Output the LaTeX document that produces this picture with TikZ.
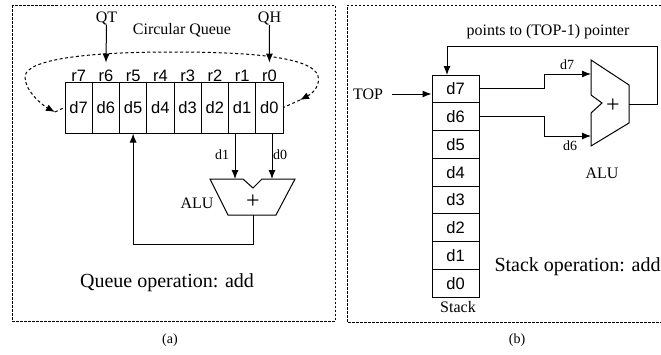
\documentclass[tikz,border=0pt]{standalone}
\usepackage{fontspec}
\setmainfont{Liberation Serif}
\newfontfamily\arialf{Liberation Sans}
\usetikzlibrary{arrows.meta}
\begin{document}
\begin{tikzpicture}[x=1pt,y=-1pt,
  line width=1pt,
  >={Latex[length=9pt,width=7pt]},
  panel/.style={draw,dash pattern=on 2.5pt off 1.5pt,line width=0.7pt},
  circ/.style={dash pattern=on 3pt off 2.5pt,line width=1pt},
  cell/.style={draw,minimum width=27.25pt,minimum height=51pt,inner sep=0pt,font=\arialf\fontsize{16.5}{16.5}\selectfont},
  scell/.style={draw,minimum width=47pt,minimum height=27.75pt,inner sep=0pt,font=\arialf\fontsize{16.5}{16.5}\selectfont},
  rlab/.style={font=\arialf\fontsize{16.5}{16.5}\selectfont,inner sep=0pt},
  lab/.style={font=\fontsize{16}{16}\selectfont,inner sep=0pt},
  small/.style={font=\fontsize{14}{14}\selectfont,inner sep=0pt},
  big/.style={font=\fontsize{20}{20}\selectfont,inner sep=0pt},
  plus/.style={font=\fontsize{24}{24}\selectfont,inner sep=0pt},
]
\useasboundingbox (0,0) rectangle (661,354);
% panels
\draw[panel] (12,5) rectangle (335,321);
\draw[panel] (665,5) -- (347,5) -- (347,322) -- (665,322);
\node[small] (capa) at (170,340) {(a)};
\node[small] (capb) at (517,340) {(b)};

% ---------- (a) circular queue ----------
\foreach \i/\d in {0/7,1/6,2/5,3/4,4/3,5/2,6/1,7/0}{
  \node[cell] (q\d) at ({65+27.25*(\i+0.5)},107.5) {d\d};
  \node[rlab] (rl\d) at ({65+27.25*(\i+0.5)},76) {r\d};
}
\node[lab] (cq) at (182,30) {Circular Queue};
\node[lab] (QT) at (106.5,18) {QT};
\node[lab] (QH) at (269.5,18) {QH};
\draw[->,shorten >=7pt] (QT.south) -- (rl6.north);
\draw[->,shorten >=7pt] (QH.south) -- (rl0.north);
% dashed circular arrow
\coordinate (cr) at (300,100);
\coordinate (cl) at (55,112);
\draw[circ,{Latex[length=9pt,width=7pt]}-{Latex[length=9pt,width=7pt]}]
  (cr) .. controls (315,92) and (320,84) .. (318,76)
       .. controls (312,56) and (245,52) .. (171,52)
       .. controls (95,52) and (28,58) .. (25,76)
       .. controls (24,90) and (42,105) .. (cl);
\draw[circ] (cr) -- (q0.east);
\draw[circ] (cl) -- (q7.west);
% ALU (a)
\coordinate (ina) at (235,179);
\coordinate (inb) at (272,179);
\coordinate (outa) at (253,215);
\draw (210,179) -- (243,179) -- (253,188) -- (262,179) -- (295,179) -- (276,215) -- (228,215) -- cycle;
\node[plus] (plusa) at (253,202) {+};
\node[lab] (alua) at (197,203) {ALU};
\draw[->] (q1.south -| ina) -- (ina);
\draw[->] (q0.south -| inb) -- (inb);
\node[small] (ld1) at (222,155) {d1};
\node[small] (ld0) at (280,155) {d0};
\draw[->] (outa) -- (253,244) -| (q5.south);
\node[big] (qop) at (167,283) {Queue operation: add};

% ---------- (b) stack ----------
\foreach \i/\d in {0/7,1/6,2/5,3/4,4/3,5/2,6/1,7/0}{
  \node[scell] (s\d) at (455.5,{75+27.75*(\i+0.5)}) {d\d};
}
\node[lab] (stk) at (458,307) {Stack};
\node[lab] (TOP) at (368,94) {TOP};
\draw[->] ([xshift=9pt]TOP.east) -- (TOP.east -| s7.west);
% ALU (b)
\coordinate (in7) at (591,74);
\coordinate (in6) at (591,136);
\coordinate (outb) at (629,104);
\coordinate (fb) at (447,75);
\draw (591,60) -- (629,85) -- (629,123) -- (591,146) -- (591,113) -- (602,103) -- (591,95) -- cycle;
\node[plus] (plusb) at (613,106) {+};
\node[lab] (alub) at (602,173) {ALU};
\draw[->] (s7.east) -- ++(65,0) |- (in7);
\draw[->] (s6.east) -- ++(65,0) |- (in6);
\node[small] (ld7) at (567,65) {d7};
\node[small] (ld6) at (570,146) {d6};
\draw[->] (outb) -- (657,104) -- (657,46) -| (fb);
\node[lab] (ptr) at (548,32) {points to (TOP-1) pointer};
\node[big,anchor=west] (sop) at (494,267) {Stack operation: add};
\end{tikzpicture}
\end{document}
